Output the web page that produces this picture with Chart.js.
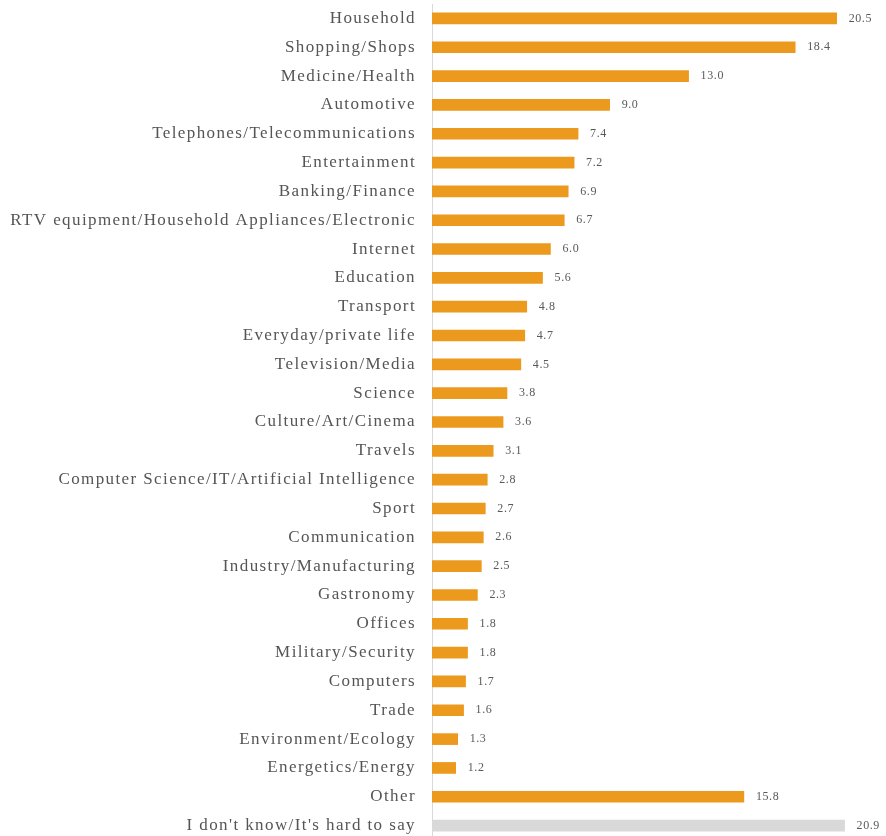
<!DOCTYPE html>
<html>
<head>
<meta charset="utf-8">
<script src="https://cdn.jsdelivr.net/npm/chart.js@4"></script>
<style>
  html, body { margin: 0; padding: 0; background: #fff; overflow: hidden; }
  #wrap { width: 886px; height: 840px; position: relative; }
</style>
</head>
<body>
<div id="wrap"><canvas id="graph"></canvas></div>
<script>
// categories, top to bottom
const categories = [
    'Household', 'Shopping/Shops', 'Medicine/Health', 'Automotive',
    'Telephones/Telecommunications', 'Entertainment', 'Banking/Finance',
    'RTV equipment/Household Appliances/Electronic', 'Internet', 'Education',
    'Transport', 'Everyday/private life', 'Television/Media', 'Science',
    'Culture/Art/Cinema', 'Travels', 'Computer Science/IT/Artificial Intelligence',
    'Sport', 'Communication', 'Industry/Manufacturing', 'Gastronomy', 'Offices',
    'Military/Security', 'Computers', 'Trade', 'Environment/Ecology',
    'Energetics/Energy', 'Other', "I don't know/It's hard to say"
];

// percentages
const values = [
    20.5, 18.4, 13.0, 9.0, 7.4, 7.2, 6.9, 6.7, 6.0, 5.6, 4.8, 4.7, 4.5, 3.8,
    3.6, 3.1, 2.8, 2.7, 2.6, 2.5, 2.3, 1.8, 1.8, 1.7, 1.6, 1.3, 1.2, 15.8, 20.9
];

const orange = '#EC9A1E';
const grey = '#D9D9D9';
const barColors = categories.map((c, i) => i === categories.length - 1 ? grey : orange);

// the reference text is drawn a bit spaced out
const spacing = {
    id: 'spacing',
    beforeDraw(chart) {
        chart.ctx.letterSpacing = '1.4px';
    }
};

// value labels at the end of each bar
const valueLabels = {
    id: 'valueLabels',
    afterDatasetsDraw(chart) {
        const ctx = chart.ctx;
        const meta = chart.getDatasetMeta(0);
        ctx.save();
        ctx.letterSpacing = '0.6px';
        ctx.font = '12px "Liberation Serif", serif';
        ctx.fillStyle = '#595959';
        ctx.textAlign = 'left';
        ctx.textBaseline = 'middle';
        meta.data.forEach((bar, i) => {
            ctx.fillText(values[i].toFixed(1), bar.x + 12, bar.y);
        });
        ctx.restore();
    }
};

const ctx = document.getElementById('graph').getContext('2d');
window.chart = new Chart(ctx, {
    type: 'bar',
    data: {
        labels: categories,
        datasets: [{
            data: values,
            backgroundColor: barColors,
            borderWidth: 0,
            barThickness: 11
        }]
    },
    options: {
        indexAxis: 'y',
        responsive: true,
        maintainAspectRatio: false,
        animation: false,
        layout: { padding: { top: 4, right: 0, bottom: 0, left: 0 } },
        plugins: {
            legend: { display: false },
            tooltip: { enabled: false }
        },
        scales: {
            x: {
                display: false,
                min: 0,
                max: 23
            },
            y: {
                afterFit(scale) {
                    scale.width = 432;
                    scale.paddingTop = 0;
                    scale.paddingBottom = 0;
                },
                grid: { display: false, drawTicks: false },
                border: { display: true, color: '#D9D9D9', width: 1 },
                ticks: {
                    padding: 16,
                    color: '#555555',
                    font: { family: '"Liberation Serif", serif', size: 17 }
                }
            }
        }
    },
    plugins: [spacing, valueLabels]
});
</script>
</body>
</html>
